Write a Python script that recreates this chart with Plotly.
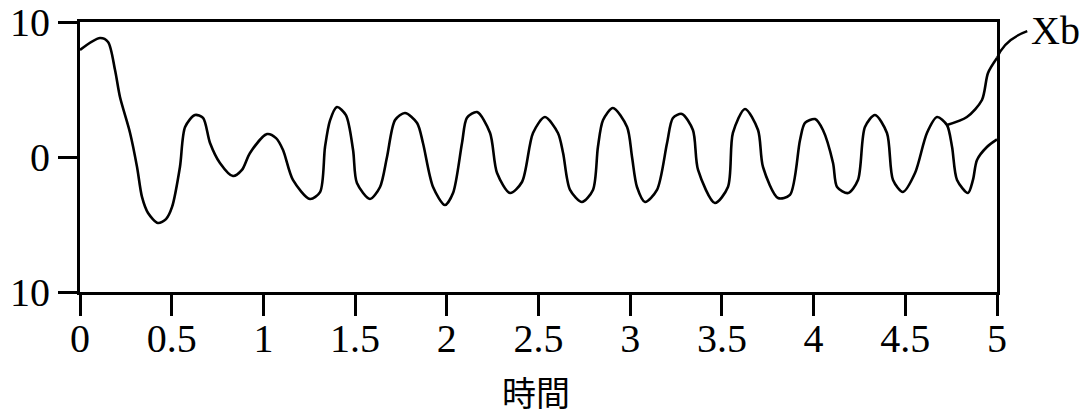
import plotly.graph_objects as go

# Time axis samples and the oscillating response (main trace)
t_main = [0.000, 0.109, 0.153, 0.191, 0.218, 0.273, 0.311, 0.338, 0.371, 0.425,
          0.469, 0.502, 0.545, 0.573, 0.627, 0.671, 0.709, 0.763, 0.834, 0.883,
          0.927, 1.020, 1.069, 1.107, 1.161, 1.254, 1.309, 1.336, 1.363, 1.401,
          1.450, 1.489, 1.510, 1.581, 1.636, 1.674, 1.718, 1.772, 1.838, 1.870,
          1.925, 1.990, 2.034, 2.083, 2.110, 2.165, 2.236, 2.274, 2.345, 2.410,
          2.470, 2.535, 2.606, 2.634, 2.672, 2.737, 2.797, 2.824, 2.852, 2.906,
          2.983, 3.010, 3.037, 3.081, 3.146, 3.201, 3.233, 3.282, 3.342, 3.370,
          3.462, 3.533, 3.560, 3.626, 3.697, 3.724, 3.806, 3.871, 3.926, 3.953,
          4.008, 4.051, 4.106, 4.128, 4.188, 4.242, 4.280, 4.335, 4.400, 4.433,
          4.487, 4.553, 4.618, 4.673, 4.727, 4.755, 4.782, 4.842, 4.869, 4.891,
          4.945, 5.000]
y_main = [7.93, 8.81, 8.52, 6.44, 4.44, 1.78, -0.74, -2.96, -4.15, -4.89,
          -4.60, -3.70, -0.74, 2.22, 3.11, 2.90, 1.04, -0.44, -1.41, -0.96,
          0.30, 1.70, 1.40, 0.52, -1.70, -3.11, -2.60, 0.74, 2.70, 3.70,
          3.10, 0.52, -1.93, -3.11, -2.22, 0.00, 2.74, 3.26, 2.52, 1.04,
          -2.22, -3.56, -2.67, 1.04, 2.90, 3.33, 1.78, -1.19, -2.67, -1.85,
          1.78, 2.96, 1.78, 0.30, -2.44, -3.33, -2.44, 0.74, 2.74, 3.63,
          2.22, 0.00, -2.22, -3.33, -2.44, 1.04, 2.89, 3.19, 2.00, -0.96,
          -3.41, -2.22, 1.78, 3.56, 2.00, -0.74, -3.04, -2.81, 1.26, 2.52,
          2.81, 2.00, -0.44, -2.22, -2.67, -1.70, 2.22, 3.11, 1.78, -1.70,
          -2.59, -1.19, 1.78, 2.96, 2.37, 0.74, -1.70, -2.67, -1.70, -0.22,
          0.74, 1.30]

# Branch Xb leaving the main trace near t = 4.73
t_xb = [4.727, 4.836, 4.918, 4.951, 5.000]
y_xb = [2.37, 2.96, 4.22, 6.22, 7.33]

x_ticks = [0, 0.5, 1, 1.5, 2, 2.5, 3, 3.5, 4, 4.5, 5]
x_tick_text = ["0", "0.5", "1", "1.5", "2", "2.5", "3", "3.5", "4", "4.5", "5"]
y_ticks = [10, 0, -10]
y_tick_text = ["10", "0", "10"]

serif = "Liberation Serif"
cjk = "Noto Sans CJK JP"

fig = go.Figure()
fig.add_trace(go.Scatter(x=t_main, y=y_main, mode="lines",
                         line=dict(color="black", width=2.6, shape="spline", smoothing=0.8),
                         showlegend=False))
fig.add_trace(go.Scatter(x=t_xb, y=y_xb, mode="lines",
                         line=dict(color="black", width=2.6, shape="spline", smoothing=0.8),
                         showlegend=False))

axis_common = dict(showgrid=False, zeroline=False, showline=True, mirror=True,
                   linecolor="black", linewidth=3, ticks="outside",
                   tickcolor="black", tickwidth=3, automargin=False,
                   tickfont=dict(family=serif, size=40, color="black"))

fig.update_xaxes(range=[0, 5], tickvals=x_ticks, ticktext=x_tick_text,
                 ticklen=21, ticklabelstandoff=-12, **axis_common)
fig.update_yaxes(range=[-10, 10], tickvals=y_ticks, ticktext=y_tick_text,
                 ticklen=19, ticklabelstandoff=0, **axis_common)

# Curved leader from the Xb branch to its label
fig.add_shape(type="path", xref="paper", yref="paper",
              path="M 1.0 0.867 Q 1.008 0.935 1.033 0.966",
              line=dict(color="black", width=2.4))
fig.add_annotation(text="Xb", xref="paper", yref="paper", x=1.035, y=0.97,
                   xanchor="left", yanchor="middle", showarrow=False,
                   font=dict(family=serif, size=40, color="black"))
fig.add_annotation(text="時間", xref="paper", yref="paper", x=0.497, y=-0.37,
                   xanchor="center", yanchor="middle", showarrow=False,
                   font=dict(family=cjk, size=34, color="black"))

fig.update_layout(width=1092, height=417,
                  margin=dict(l=80, r=95, t=22, b=125),
                  plot_bgcolor="white", paper_bgcolor="white",
                  showlegend=False)

fig.write_html("out.html")
